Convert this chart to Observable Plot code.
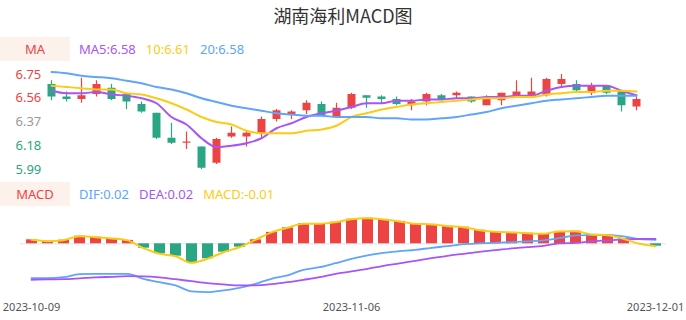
<!DOCTYPE html>
<html><head><meta charset="utf-8">
<script src="https://cdn.jsdelivr.net/npm/d3@7"></script>
<script src="https://cdn.jsdelivr.net/npm/@observablehq/plot@0.6"></script>
<style>
body{margin:0;background:#fff;}
#root{position:relative;width:686px;height:320px;font-family:"Noto Sans",sans-serif;overflow:hidden;background:#fff}
.title{position:absolute;left:0;top:2px;width:686px;text-align:center;font-family:"Noto Sans CJK SC","Noto Sans",sans-serif;font-size:18px;line-height:26px;color:#333}
.leg{position:absolute;left:0;display:flex;align-items:center;height:24px;font-size:13px;white-space:nowrap}
.leg .box{width:70px;height:24px;line-height:24px;text-align:center;background:#fdf1ec;color:#ef4444;margin-right:9px}
.leg .it{margin-right:10px}
.panel{position:absolute;left:0}
</style></head><body>
<div id="root">
  <div class="title" id="title"></div>
  <div class="leg" id="legMA" style="top:37px"></div>
  <div class="panel" id="kline" style="top:60px"></div>
  <div class="leg" id="legMACD" style="top:182px"></div>
  <div class="panel" id="macdPanel" style="top:210px"></div>
</div>
<script>
const titleText = "湖南海利MACD图";
const dates = ["2023-10-09","2023-10-10","2023-10-11","2023-10-12","2023-10-13","2023-10-16","2023-10-17","2023-10-18","2023-10-19","2023-10-20",
"2023-10-23","2023-10-24","2023-10-25","2023-10-26","2023-10-27","2023-10-30","2023-10-31","2023-11-01","2023-11-02","2023-11-03",
"2023-11-06","2023-11-07","2023-11-08","2023-11-09","2023-11-10","2023-11-13","2023-11-14","2023-11-15","2023-11-16","2023-11-17",
"2023-11-20","2023-11-21","2023-11-22","2023-11-23","2023-11-24","2023-11-27","2023-11-28","2023-11-29","2023-11-30","2023-12-01"];
const open  = [6.67,6.57,6.55,6.59,6.64,6.59,6.51,6.44,6.24,6.20,6.17,6.04,6.25,6.25,6.27,6.39,6.43,6.46,6.51,6.41,6.48,6.58,6.57,6.55,6.50,6.53,6.58,6.58,6.57,6.50,6.54,6.57,6.58,6.58,6.67,6.67,6.60,6.66,6.62,6.49];
const close = [6.57,6.55,6.58,6.67,6.55,6.53,6.45,6.24,6.20,6.21,6.00,6.23,6.28,6.28,6.39,6.46,6.45,6.52,6.42,6.48,6.59,6.56,6.55,6.51,6.53,6.59,6.55,6.60,6.53,6.56,6.60,6.61,6.61,6.71,6.71,6.62,6.66,6.60,6.50,6.55];
const high  = [6.70,6.61,6.72,6.70,6.67,6.59,6.53,6.44,6.36,6.29,6.17,6.24,6.33,6.30,6.41,6.47,6.46,6.54,6.53,6.52,6.60,6.58,6.58,6.57,6.55,6.60,6.59,6.61,6.57,6.58,6.60,6.70,6.72,6.72,6.75,6.70,6.68,6.66,6.62,6.57];
const low   = [6.54,6.53,6.52,6.57,6.54,6.47,6.44,6.23,6.19,6.15,5.99,6.03,6.24,6.17,6.24,6.37,6.39,6.43,6.42,6.40,6.47,6.48,6.52,6.50,6.46,6.50,6.54,6.55,6.52,6.50,6.50,6.56,6.58,6.57,6.64,6.61,6.58,6.59,6.45,6.46];
const ma5  = [6.62,6.60,6.60,6.61,6.59,6.58,6.56,6.52,6.41,6.35,6.24,6.17,6.18,6.20,6.24,6.32,6.36,6.41,6.44,6.46,6.49,6.52,6.52,6.54,6.54,6.55,6.55,6.56,6.56,6.57,6.57,6.58,6.58,6.62,6.65,6.66,6.66,6.66,6.62,6.584];
const ma10 = [6.66,6.65,6.64,6.63,6.63,6.60,6.59,6.56,6.52,6.47,6.41,6.37,6.35,6.30,6.28,6.28,6.28,6.30,6.31,6.34,6.41,6.44,6.47,6.49,6.51,6.52,6.53,6.54,6.55,6.56,6.56,6.57,6.57,6.59,6.60,6.61,6.61,6.62,6.62,6.614];
const ma20 = [6.77,6.76,6.74,6.73,6.72,6.70,6.68,6.65,6.63,6.60,6.56,6.53,6.50,6.48,6.46,6.44,6.43,6.42,6.42,6.41,6.41,6.41,6.40,6.40,6.39,6.39,6.40,6.41,6.43,6.45,6.48,6.50,6.52,6.54,6.55,6.56,6.57,6.58,6.58,6.58];
const dif  = [-0.172,-0.172,-0.167,-0.152,-0.150,-0.150,-0.150,-0.175,-0.192,-0.208,-0.238,-0.242,-0.233,-0.220,-0.200,-0.175,-0.158,-0.130,-0.117,-0.097,-0.075,-0.058,-0.045,-0.037,-0.030,-0.020,-0.012,-0.002,0.002,0.005,0.008,0.012,0.017,0.028,0.042,0.043,0.043,0.037,0.023,0.020];
const dea  = [-0.180,-0.178,-0.177,-0.173,-0.168,-0.165,-0.162,-0.163,-0.168,-0.177,-0.187,-0.197,-0.203,-0.208,-0.208,-0.202,-0.192,-0.180,-0.167,-0.150,-0.138,-0.125,-0.110,-0.098,-0.085,-0.072,-0.060,-0.050,-0.040,-0.032,-0.023,-0.017,-0.010,0.002,0.005,0.012,0.017,0.022,0.024,0.024];
const macd = [0.020,0.013,0.018,0.038,0.033,0.027,0.017,-0.022,-0.050,-0.062,-0.095,-0.075,-0.042,-0.017,0.020,0.057,0.080,0.100,0.100,0.108,0.123,0.128,0.122,0.112,0.100,0.097,0.088,0.083,0.068,0.060,0.057,0.053,0.050,0.062,0.063,0.047,0.043,0.025,0.000,-0.012];
const yTicks = [5.99, 6.18, 6.37, 6.56, 6.75];
const refPrice = 6.37;
const xTicks = ["2023-10-09", "2023-11-06", "2023-12-01"];
const maLabels = ["MA5", "10", "20"];
const macdLabels = ["DIF", "DEA", "MACD"];

const RED = "#ec4444", GREEN = "#2ba684", PURPLE = "#a855f7", YELLOW = "#facc15", BLUE = "#60a5fa";
const FONT = "'Noto Sans', sans-serif";

document.getElementById("title").textContent = titleText;

function legend(el, name, labels, series, colors) {
  const box = document.createElement("span"); box.className = "box"; box.textContent = name; el.appendChild(box);
  labels.forEach((l, i) => {
    const s = document.createElement("span"); s.className = "it"; s.style.color = colors[i];
    s.textContent = l + ":" + series[i][series[i].length - 1].toFixed(2);
    el.appendChild(s);
  });
}
legend(document.getElementById("legMA"), "MA", maLabels, [ma5, ma10, ma20], [PURPLE, YELLOW, BLUE]);
legend(document.getElementById("legMACD"), "MACD", macdLabels, [dif, dea, macd], [BLUE, PURPLE, YELLOW]);

const candles = dates.map((d, i) => ({date: d, open: open[i], close: close[i], high: high[i], low: low[i], ma5: ma5[i], ma10: ma10[i], ma20: ma20[i]}));
const cColor = d => d.close >= d.open ? RED : GREEN;
const labelColor = v => v > refPrice + 1e-9 ? RED : v < refPrice - 1e-9 ? GREEN : "#999";

const kline = Plot.plot({
  width: 686, height: 120, marginTop: 14, marginBottom: 11, marginLeft: 20, marginRight: 20,
  style: {fontFamily: FONT, fontSize: "13px", background: "transparent", overflow: "visible"},
  x: {type: "point", domain: dates, range: [50, 636], padding: 0, axis: null},
  y: {domain: [yTicks[0], yTicks[yTicks.length - 1]], axis: null},
  color: {type: "identity"},
  marks: [
    Plot.text(yTicks, {y: d => d, text: d => d.toFixed(2), frameAnchor: "left", dx: -5, textAnchor: "start", fill: labelColor, fontSize: 13}),
    Plot.ruleX(candles, {x: "date", y1: "low", y2: "high", stroke: cColor, strokeWidth: 1.2}),
    Plot.ruleX(candles, {x: "date", y1: "open", y2: "close", stroke: cColor, strokeWidth: 8}),
    Plot.lineY(candles, {x: "date", y: "ma5", stroke: PURPLE, strokeWidth: 2, curve: "monotone-x"}),
    Plot.lineY(candles, {x: "date", y: "ma10", stroke: YELLOW, strokeWidth: 2, curve: "monotone-x"}),
    Plot.lineY(candles, {x: "date", y: "ma20", stroke: BLUE, strokeWidth: 2, curve: "monotone-x"})
  ]
});
document.getElementById("kline").appendChild(kline);

const md = dates.map((d, i) => ({date: d, dif: dif[i], dea: dea[i], macd: macd[i]}));
const macdPlot = Plot.plot({
  width: 686, height: 110, marginTop: 3.3, marginBottom: 26.7, marginLeft: 20, marginRight: 20,
  style: {fontFamily: FONT, fontSize: "11px", background: "transparent", overflow: "visible"},
  x: {type: "point", domain: dates, range: [28, 657], padding: 0},
  y: {domain: [-0.25, 0.15], axis: null},
  color: {type: "identity"},
  marks: [
    Plot.ruleY([0], {stroke: "#e3e3e3", strokeWidth: 1}),
    Plot.ruleX(md, {x: "date", y1: 0, y2: "macd", stroke: d => d.macd >= 0 ? RED : GREEN, strokeWidth: 11}),
    Plot.lineY(md, {x: "date", y: "dif", stroke: BLUE, strokeWidth: 1.8, curve: "monotone-x"}),
    Plot.lineY(md, {x: "date", y: "dea", stroke: PURPLE, strokeWidth: 1.8, curve: "monotone-x"}),
    Plot.lineY(md, {x: "date", y: "macd", stroke: YELLOW, strokeWidth: 2, curve: "monotone-x"}),
    Plot.axisX(xTicks, {tickSize: 0, tickPadding: 9, fill: "#555", fontSize: 11, tickFormat: d => d, label: null})
  ]
});
document.getElementById("macdPanel").appendChild(macdPlot);
</script>
</body></html>
